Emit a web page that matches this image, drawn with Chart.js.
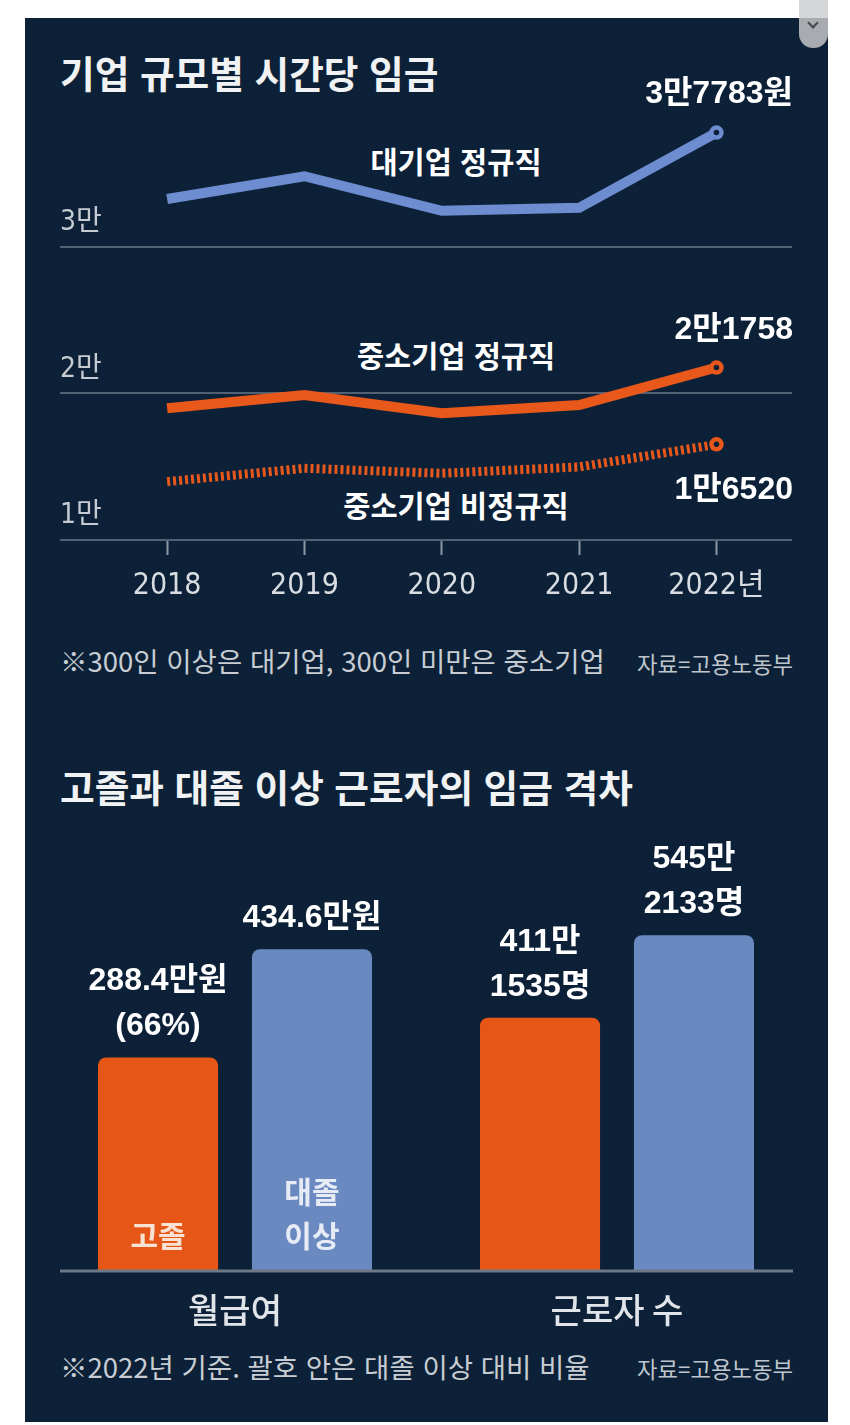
<!DOCTYPE html>
<html lang="ko">
<head>
<meta charset="utf-8">
<script src="https://cdn.jsdelivr.net/npm/chart.js@4.4.1/dist/chart.umd.min.js"></script>
<style>
  html, body { margin:0; padding:0; }
  body { width:850px; height:1425px; background:#ffffff; position:relative; overflow:hidden;
         font-family:"Noto Sans CJK KR", "Noto Sans", sans-serif; }
  .abs { position:absolute; white-space:nowrap; }
  #panel { position:absolute; left:25px; top:18px; width:803px; height:1404px; background:#0c2137; }
  .title { color:#f1f2f3; font-size:37.7px; font-weight:700; line-height:45px; }
  .note { color:#c8cdd3; font-size:27.5px; font-weight:400; line-height:33px; }
  .src { color:#bfc5cc; font-size:22.3px; font-weight:400; line-height:27px; text-align:right; }
  .series { color:#ffffff; font-size:29.5px; font-weight:700; line-height:35px; text-align:center; width:400px; }
  #scroll { position:absolute; left:799px; top:0; width:29px; height:48px; background:#a8abb0;
            border-radius:0 0 14px 14px; overflow:hidden; }
  #scrollTop { position:absolute; left:0; top:0; width:29px; height:18px; background:#d5d6d8; }
  #chev { position:absolute; left:10px; top:19px; width:6px; height:6px;
          border-right:2px solid #454a50; border-bottom:2px solid #454a50; transform:rotate(45deg); }
  canvas { position:absolute; }
</style>
</head>
<body>
<div id="panel"></div>
<div id="scroll"><div id="scrollTop"></div><div id="chev"></div></div>

<div class="abs title" style="left:60px; top:49px;">기업 규모별 시간당 임금</div>
<div class="abs series" style="left:256px; top:143px;">대기업 정규직</div>
<div class="abs series" style="left:256px; top:337px;">중소기업 정규직</div>
<div class="abs series" style="left:256px; top:487px;">중소기업 비정규직</div>
<div class="abs note" style="left:60px; top:644px;">※300인 이상은 대기업, 300인 미만은 중소기업</div>
<div class="abs src" style="right:57px; top:650px;">자료=고용노동부</div>

<div class="abs title" style="left:60px; top:763px;">고졸과 대졸 이상 근로자의 임금 격차</div>
<div class="abs note" style="left:60px; top:1350px;">※2022년 기준. 괄호 안은 대졸 이상 대비 비율</div>
<div class="abs src" style="right:57px; top:1355px;">자료=고용노동부</div>

<canvas id="lineChart" width="780" height="580" style="left:40px; top:40px; width:780px; height:580px;"></canvas>
<canvas id="barChart" width="803" height="530" style="left:25px; top:810px; width:803px; height:530px;"></canvas>

<script>
// ---------- Data: hourly wage by company size (원) ----------
const years = [2018, 2019, 2020, 2021, 2022];
const yearLabels = ['2018', '2019', '2020', '2021', '2022년'];
const largeRegular = [33250, 34800, 32450, 32650, 37783];
const smeRegular = [18980, 19880, 18640, 19200, 21758];
const smeIrregular = [13980, 14890, 14550, 14980, 16520];
const yTickValues = [10000, 20000, 30000];
const yTickLabels = ['1만', '2만', '3만'];
const endLabels = ['3만7783원', '2만1758', '1만6520'];

// ---------- Data: high school vs college graduates ----------
const groups = ['월급여', '근로자 수'];
const highSchool = [288.4, 411.1535];   // 만원, 만명
const college = [434.6, 545.2133];
const highSchoolTopLabels = [['288.4만원', '(66%)'], ['411만', '1535명']];
const collegeTopLabels = [['434.6만원'], ['545만', '2133명']];
const highSchoolName = ['고졸'];
const collegeName = ['대졸', '이상'];

const PANEL = '#0c2137';
const BLUE_LINE = '#6e8cd0';
const ORANGE_LINE = '#e8581b';
const BLUE_BAR = '#6a89c0';
const ORANGE_BAR = '#e55617';
const NARROW = '"Liberation Sans Narrow", "DejaVu Sans Condensed", "Noto Sans CJK KR", sans-serif';
const LABEL_FONT = 'bold 32px "Liberation Sans", "Noto Sans CJK KR", sans-serif';

function pts(vals) { return vals.map((v, i) => ({ x: years[i], y: v })); }
const lastOnly = (r) => (c) => (c.dataIndex === c.dataset.data.length - 1 ? r : 0);

const endLabelPlugin = {
  id: 'endLabels',
  afterDatasetsDraw(chart) {
    const ctx = chart.ctx;
    chart.data.datasets.forEach((ds, i) => {
      const meta = chart.getDatasetMeta(i);
      const pt = meta.data[meta.data.length - 1];
      ctx.save();
      ctx.font = LABEL_FONT;
      ctx.fillStyle = '#ffffff';
      ctx.textAlign = 'right';
      ctx.textBaseline = 'middle';
      ctx.fillText(endLabels[i], chart.chartArea.right + 1, pt.y + ds.labelShift);
      ctx.restore();
    });
  }
};

const lineDs = (vals, color, width, shift, dash) => ({
  data: pts(vals), borderColor: color, borderWidth: width, borderDash: dash || [], labelShift: shift,
  pointBorderColor: color, pointBackgroundColor: PANEL, pointBorderWidth: 4.5,
  pointRadius: lastOnly(5), pointHoverRadius: lastOnly(5)
});

new Chart(document.getElementById('lineChart'), {
  type: 'line',
  data: {
    datasets: [
      lineDs(largeRegular, BLUE_LINE, 10, -38),
      lineDs(smeRegular, ORANGE_LINE, 10, -37),
      lineDs(smeIrregular, ORANGE_LINE, 9, 46, [3, 3])
    ]
  },
  options: {
    responsive: false, animation: false, devicePixelRatio: 1,
    layout: { padding: { left: 20, right: 28, top: 60, bottom: 0 } },
    elements: {
      line: { tension: 0, borderJoinStyle: 'miter', borderCapStyle: 'butt', fill: false }
    },
    plugins: { legend: { display: false }, tooltip: { enabled: false } },
    scales: {
      x: {
        type: 'linear', min: 2017.22, max: 2022.55,
        afterBuildTicks: (a) => { a.ticks = years.map(v => ({ value: v })); },
        afterFit: (a) => { a.height = 80; a.paddingLeft = 0; a.paddingRight = 0; },
        grid: { drawOnChartArea: false, drawTicks: true, tickLength: 15, tickWidth: 2, tickColor: '#8f99a4' },
        border: { display: false },
        ticks: { padding: 13, color: '#d9dde2', autoSkip: false, maxRotation: 0,
                 font: { family: NARROW, size: 30 },
                 callback: (v, i) => yearLabels[i] }
      },
      y: {
        min: 10000, max: 40000,
        afterBuildTicks: (a) => { a.ticks = yTickValues.map(v => ({ value: v })); },
        afterFit: (a) => { a.width = 0; a.paddingTop = 0; a.paddingBottom = 0; },
        grid: { color: '#506173', lineWidth: 2, drawTicks: false },
        border: { display: false },
        ticks: { mirror: true, padding: 0, labelOffset: -24, color: '#c6cbd2',
                 font: { family: NARROW, size: 28 },
                 callback: (v, i) => yTickLabels[i] }
      }
    }
  },
  plugins: [endLabelPlugin]
});

// ---------- Bar chart ----------
const barLabelPlugin = {
  id: 'barLabels',
  afterDatasetsDraw(chart) {
    const ctx = chart.ctx;
    chart.data.datasets.forEach((ds, i) => {
      const meta = chart.getDatasetMeta(i);
      meta.data.forEach((el, j) => {
        if (ds.data[j] === null || ds.data[j] === undefined) return;
        ctx.save();
        ctx.textAlign = 'center';
        ctx.textBaseline = 'middle';
        ctx.font = LABEL_FONT;
        ctx.fillStyle = '#ffffff';
        const top = ds.topLines;
        top.forEach((t, k) => {
          ctx.fillText(t, el.x, el.y - 31 - (top.length - 1 - k) * 45);
        });
        const inner = ds.innerLines || [];
        ctx.font = 'bold 30px "Noto Sans CJK KR", sans-serif';
        ctx.fillStyle = ds.innerColor || '#ffffff';
        inner.forEach((t, k) => {
          ctx.fillText(t, el.x, el.base - 35 - (inner.length - 1 - k) * 44);
        });
        ctx.restore();
      });
    });
    // baseline
    const y0 = chart.scales.yWage.getPixelForValue(0);
    ctx.save();
    ctx.strokeStyle = '#6c7886';
    ctx.lineWidth = 3;
    ctx.beginPath();
    ctx.moveTo(chart.chartArea.left + 16, y0);
    ctx.lineTo(chart.chartArea.right - 15, y0);
    ctx.stroke();
    ctx.restore();
  }
};

const barCommon = { categoryPercentage: 0.806, barPercentage: 0.78, skipNull: true,
  borderRadius: { topLeft: 8, topRight: 8, bottomLeft: 0, bottomRight: 0 }, borderSkipped: 'start' };

new Chart(document.getElementById('barChart'), {
  type: 'bar',
  data: {
    labels: groups,
    datasets: [
      Object.assign({ data: [highSchool[0], null], yAxisID: 'yWage', backgroundColor: ORANGE_BAR,
        topLines: highSchoolTopLabels[0], innerLines: highSchoolName, innerColor: '#f8e2d4' }, barCommon),
      Object.assign({ data: [college[0], null], yAxisID: 'yWage', backgroundColor: BLUE_BAR,
        topLines: collegeTopLabels[0], innerLines: collegeName, innerColor: '#e6ebf5' }, barCommon),
      Object.assign({ data: [null, highSchool[1]], yAxisID: 'yWorkers', backgroundColor: ORANGE_BAR,
        topLines: highSchoolTopLabels[1] }, barCommon),
      Object.assign({ data: [null, college[1]], yAxisID: 'yWorkers', backgroundColor: BLUE_BAR,
        topLines: collegeTopLabels[1] }, barCommon)
    ]
  },
  options: {
    responsive: false, animation: false, devicePixelRatio: 1,
    layout: { padding: { left: 19, right: 20, top: 20, bottom: 0 } },
    plugins: { legend: { display: false }, tooltip: { enabled: false } },
    scales: {
      x: {
        grid: { display: false, drawTicks: false },
        border: { display: false },
        afterFit: (a) => { a.height = 69; },
        ticks: { padding: 19, color: '#e1e4e8', font: { family: '"Noto Sans CJK KR", sans-serif', size: 34, weight: '500' } }
      },
      yWage: { display: false, min: 0, max: 595.5 },
      yWorkers: { display: false, min: 0, max: 716 }
    }
  },
  plugins: [barLabelPlugin]
});
</script>
</body>
</html>
